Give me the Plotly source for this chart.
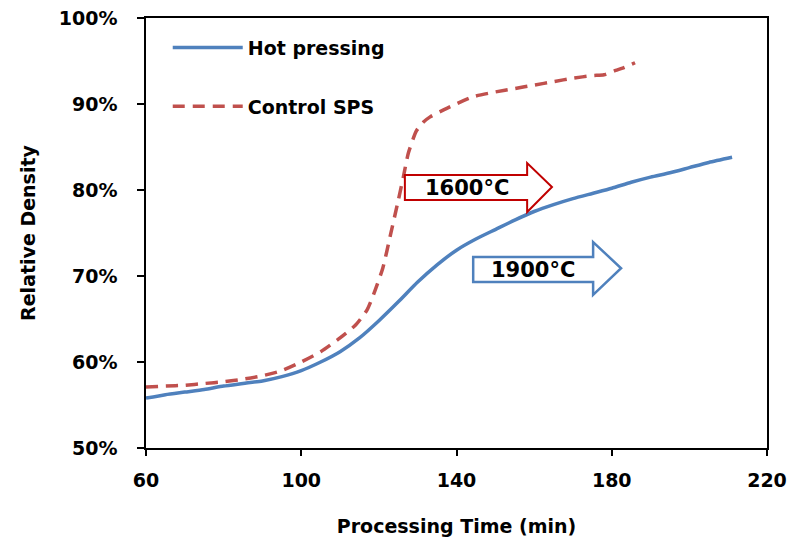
import plotly.graph_objects as go

# Hot pressing (blue, solid)
hp_time = [60, 65, 70, 75, 80, 85, 90, 95, 100, 105, 110, 115, 120, 125, 130, 135,
           140, 145, 150, 155, 160, 165, 170, 175, 180, 185, 190, 195, 200, 205, 211]
hp_density = [0.558, 0.562, 0.565, 0.568, 0.572, 0.575, 0.578, 0.583, 0.590, 0.600, 0.612,
              0.628, 0.648, 0.670, 0.693, 0.713, 0.730, 0.743, 0.754, 0.765, 0.775,
              0.783, 0.790, 0.796, 0.802, 0.809, 0.815, 0.820, 0.826, 0.832, 0.838]

# Control SPS (red, dashed)
sps_time = [60, 65, 70, 75, 80, 85, 90, 95, 100, 105, 110, 114, 117, 119, 121, 123, 125,
            126.3, 127.6, 129.7, 131.5, 133.2, 137.5, 144.3, 150, 155, 160, 165, 170, 175,
            178, 181, 183, 186]
sps_density = [0.571, 0.572, 0.573, 0.575, 0.577, 0.580, 0.584, 0.590, 0.600, 0.612, 0.628,
               0.643, 0.661, 0.683, 0.709, 0.748, 0.788, 0.815, 0.843, 0.869, 0.879, 0.885,
               0.895, 0.9085, 0.914, 0.918, 0.922, 0.926, 0.930, 0.933, 0.934, 0.939, 0.942,
               0.948]

x_ticks = [60, 100, 140, 180, 220]
y_ticks = [0.5, 0.6, 0.7, 0.8, 0.9, 1.0]

FONT = "DejaVu Sans"
BLUE = "#4F81BD"
RED = "#C0504D"

fig = go.Figure()
fig.add_trace(go.Scatter(x=hp_time, y=hp_density, mode="lines", name="Hot pressing",
                         line=dict(color=BLUE, width=3.5, shape="spline", smoothing=0.6),
                         legendgroup="a"))
fig.add_trace(go.Scatter(x=sps_time, y=sps_density, mode="lines", name="Control SPS",
                         line=dict(color=RED, width=3.5, dash="12px,8px", shape="spline",
                                   smoothing=0.6),
                         legendgroup="b"))

def arrow_path(x0, xb, xt, yb0, yb1, yh0, yh1, yt):
    return (f"M {x0},{yb0} L {xb},{yb0} L {xb},{yh0} L {xt},{yt} L {xb},{yh1} "
            f"L {xb},{yb1} L {x0},{yb1} Z")

# temperature arrows (data coordinates)
fig.add_shape(type="path", xref="x", yref="y",
              path=arrow_path(126.7, 158.2, 164.6, 0.8174, 0.7884, 0.8314, 0.7744, 0.8035),
              line=dict(color="#C00000", width=2), fillcolor="white", layer="above")
fig.add_shape(type="path", xref="x", yref="y",
              path=arrow_path(144.3, 175.2, 182.4, 0.722, 0.693, 0.7395, 0.678, 0.709),
              line=dict(color=BLUE, width=2.5), fillcolor="white", layer="above")
fig.add_annotation(x=142.8, y=0.8029, xref="x", yref="y", text="1600°C", showarrow=False,
                   font=dict(family=FONT, size=21, color="black", weight="bold"))
fig.add_annotation(x=159.8, y=0.7075, xref="x", yref="y", text="1900°C", showarrow=False,
                   font=dict(family=FONT, size=21, color="black", weight="bold"))

fig.update_layout(
    width=794, height=546,
    margin=dict(l=146, r=27, t=18, b=98),
    paper_bgcolor="white", plot_bgcolor="white",
    font=dict(family=FONT, size=19, color="black"),
    showlegend=True,
    legend=dict(x=0.035, y=0.975, xanchor="left", yanchor="top",
                bgcolor="rgba(0,0,0,0)", tracegroupgap=31, itemwidth=70,
                font=dict(family=FONT, size=19, color="black", weight="bold")),
    xaxis=dict(range=[60, 220], tickvals=x_ticks, showgrid=False, zeroline=False,
               showline=True, linecolor="black", linewidth=1.5, mirror=True,
               ticks="outside", ticklen=6, tickcolor="black", tickwidth=1.5,
               ticklabelstandoff=8, automargin=False,
               tickfont=dict(family=FONT, size=19, weight="bold"),
               title=dict(text="Processing Time (min)", standoff=30,
                          font=dict(family=FONT, size=19, weight="bold"))),
    yaxis=dict(range=[0.5, 1.0], tickvals=y_ticks, tickformat=".0%", showgrid=False,
               zeroline=False, showline=True, linecolor="black", linewidth=1.5, mirror=True,
               ticks="outside", ticklen=7, tickcolor="black", tickwidth=1.5,
               ticklabelstandoff=16, automargin=False,
               tickfont=dict(family=FONT, size=19, weight="bold"),
               title=dict(text="Relative Density", standoff=18,
                          font=dict(family=FONT, size=19, weight="bold"))),
)

fig.write_html("out.html")
